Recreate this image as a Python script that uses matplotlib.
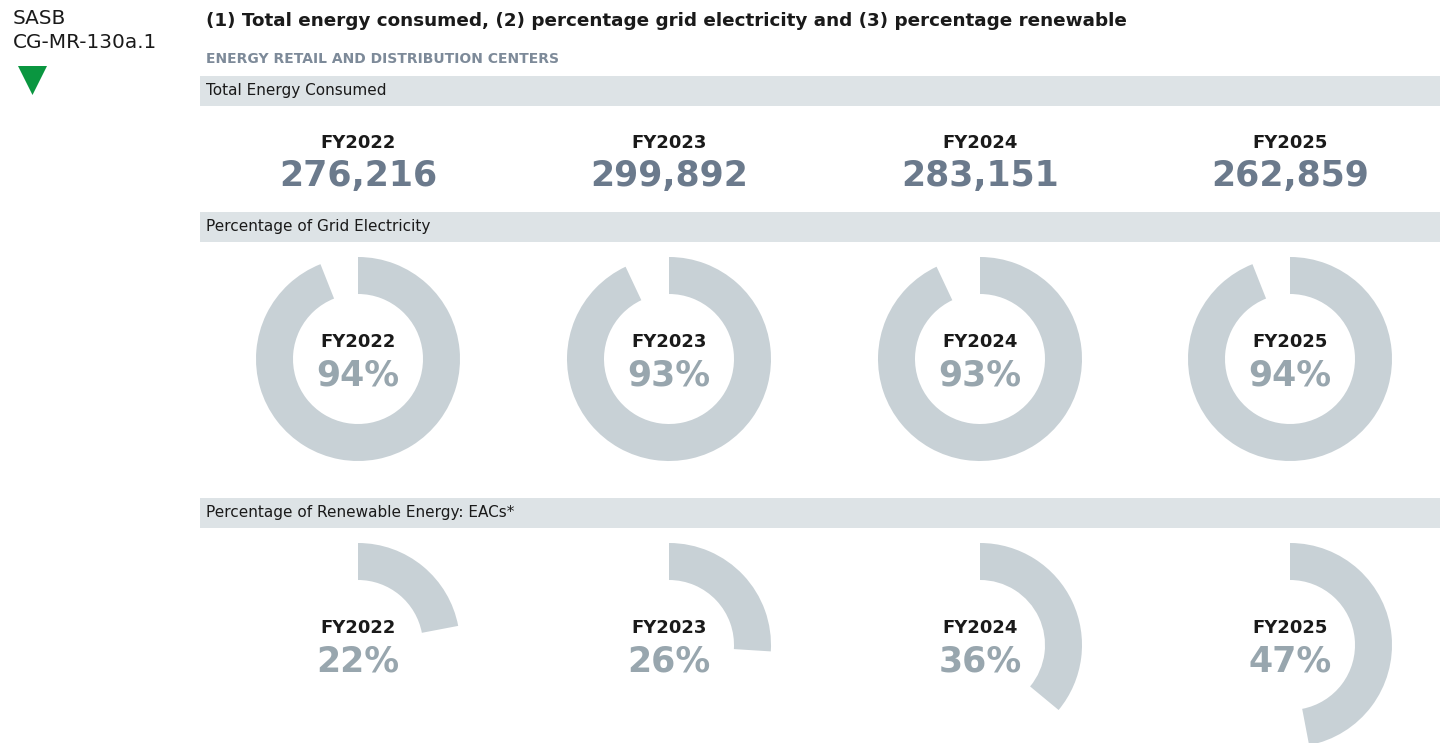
import matplotlib.pyplot as plt
from matplotlib.patches import Rectangle, Polygon

years = ['FY2022', 'FY2023', 'FY2024', 'FY2025']
total_energy = [276216, 299892, 283151, 262859]
grid_pct = [94, 93, 93, 94]
renew_pct = [22, 26, 36, 47]

ring_col = '#c8d1d6'
pct_col = '#98a6ae'
num_col = '#6b7a8c'
band_col = '#dde3e6'
H = 743

plt.rcParams['font.family'] = ['DejaVu Sans']

fig = plt.figure(figsize=(14.4, 7.43), dpi=100)
ax = fig.add_axes([0, 0, 1, 1])

cx = [358, 669, 980, 1290]

# section bands
for ytop, label in [(76, 'Total Energy Consumed'),
                    (212, 'Percentage of Grid Electricity'),
                    (498, 'Percentage of Renewable Energy: EACs*')]:
    ax.add_patch(Rectangle((200, H - ytop - 30), 1240, 30, color=band_col, lw=0))
    ax.text(206, H - ytop - 15, label, fontsize=11, va='center', ha='left', color='#1a1a1a')

# header
ax.text(13, H - 18, 'SASB', fontsize=14.4, va='center', ha='left', color='#1a1a1a')
ax.text(13, H - 43, 'CG-MR-130a.1', fontsize=14.4, va='center', ha='left', color='#1a1a1a')
ax.add_patch(Polygon([(18, H - 66), (47, H - 66), (32.5, H - 95)], color='#0a9640', lw=0))
ax.text(206, H - 21, '(1) Total energy consumed, (2) percentage grid electricity and (3) percentage renewable',
        fontsize=13.2, fontweight='bold', va='center', ha='left', color='#1a1a1a')
ax.text(206, H - 59, 'ENERGY RETAIL AND DISTRIBUTION CENTERS', fontsize=10, fontweight='bold',
        va='center', ha='left', color='#7d8a99')

# total energy
for x, yr, v in zip(cx, years, total_energy):
    ax.text(x, H - 143, yr, fontsize=13, fontweight='bold', ha='center', va='center', color='#1a1a1a')
    ax.text(x, H - 176, f'{v:,}', fontsize=25, fontweight='bold', ha='center', va='center', color=num_col)

# donuts
for rowy, vals in [(359, grid_pct), (645, renew_pct)]:
    for x, yr, v in zip(cx, years, vals):
        ax.pie([v, 100 - v], colors=[ring_col, 'none'], startangle=90, counterclock=False,
               center=(x, H - rowy), radius=102, wedgeprops=dict(width=37, linewidth=0))
        ax.text(x, H - rowy + 17, yr, fontsize=13, fontweight='bold', ha='center', va='center', color='#1a1a1a')
        ax.text(x, H - rowy - 17, f'{v}%', fontsize=25, fontweight='bold', ha='center', va='center', color=pct_col)

ax.set_xlim(0, 1440)
ax.set_ylim(0, H)
ax.set_aspect('auto')
ax.axis('off')

fig.savefig('out.png', dpi=100)
